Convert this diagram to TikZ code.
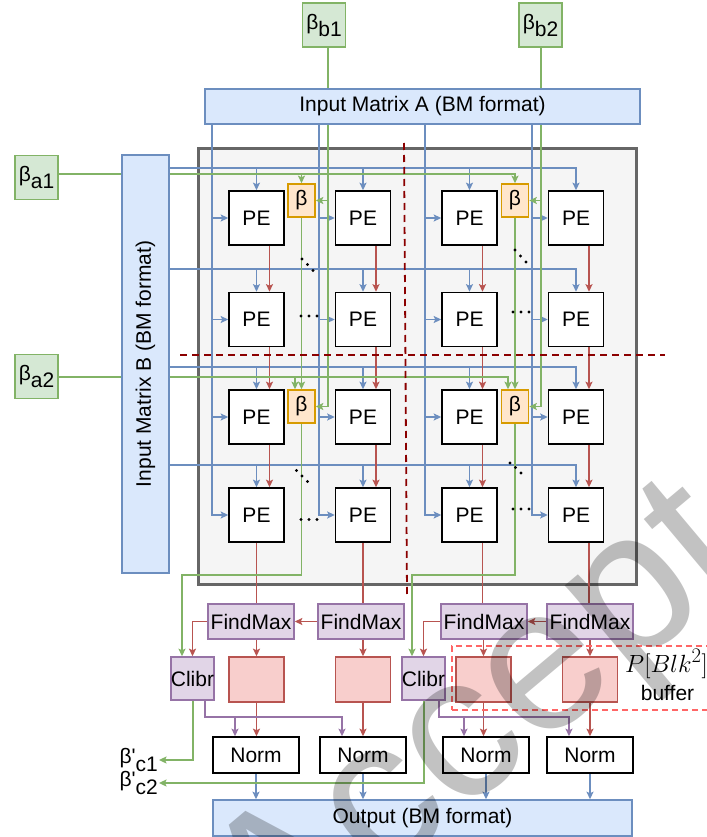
\documentclass[tikz,border=0pt]{standalone}
\usepackage{fontspec}
\setmainfont{Liberation Sans}
\usetikzlibrary{arrows.meta}
\definecolor{blueFill}{HTML}{DAE8FC}
\definecolor{blueLine}{HTML}{6C8EBF}
\definecolor{greenFill}{HTML}{D5E8D4}
\definecolor{greenLine}{HTML}{82B366}
\definecolor{orangeFill}{HTML}{FFE6CC}
\definecolor{orangeLine}{HTML}{D79B00}
\definecolor{purpleFill}{HTML}{E1D5E7}
\definecolor{purpleLine}{HTML}{9673A6}
\definecolor{redFill}{HTML}{F8CECC}
\definecolor{redLine}{HTML}{B85450}
\definecolor{arrayFill}{HTML}{F5F5F5}
\definecolor{arrayLine}{HTML}{666666}
\definecolor{splitLine}{HTML}{8B0000}
\definecolor{bufLine}{HTML}{FF6666}
\pgfdeclarelayer{bg}
\pgfdeclarelayer{wires}
\pgfdeclarelayer{fg}
\pgfsetlayers{bg,wires,main,fg}
\begin{document}
\begin{tikzpicture}[x=1pt,y=-1pt,
  font=\fontsize{21}{25}\selectfont,
  box/.style={draw, line width=1.6pt, inner sep=0pt, align=center},
  pe/.style={box, draw=black, fill=white, minimum width=55, minimum height=54},
  betaBox/.style={box, draw=orangeLine, fill=orangeFill, minimum width=27, minimum height=33},
  betaIn/.style={box, draw=greenLine, fill=greenFill, minimum width=43, minimum height=44},
  ioBox/.style={box, draw=blueLine, fill=blueFill},
  fmax/.style={box, draw=purpleLine, fill=purpleFill, minimum width=86, minimum height=35},
  clbr/.style={box, draw=purpleLine, fill=purpleFill, minimum width=43, minimum height=43},
  bufBox/.style={box, draw=redLine, fill=redFill, minimum width=55, minimum height=45},
  normBox/.style={box, draw=black, fill=white, minimum width=86, minimum height=36},
  wire/.style={line width=1.6pt},
  arr/.style={wire, -{Stealth[length=7.5pt,width=7pt,inset=1.5pt]}},
  bArr/.style={arr, draw=blueLine},
  rArr/.style={arr, draw=redLine},
  gArr/.style={arr, draw=greenLine},
  pArr/.style={arr, draw=purpleLine},
  rWire/.style={wire, draw=redLine},
  split/.style={draw=splitLine, line width=1.8pt, dash pattern=on 7pt off 5pt},
]
\useasboundingbox (0,0) rectangle (706,837);
\begin{pgfonlayer}{bg}
  \fill[white] (0,0) rectangle (706,837);
  \node[draw=arrayLine, fill=arrayFill, line width=3pt, minimum width=438, minimum height=435, inner sep=0pt] (array) at (417,366.5) {};
\end{pgfonlayer}

% inputs
\node[ioBox, minimum width=435, minimum height=35] (ia) at (422.5,106.5) {Input Matrix A (BM format)};
\node[ioBox, minimum width=47, minimum height=418] (ib) at (145.5,364) {\rotatebox{90}{Input Matrix B (BM format)}};
\node[betaIn] (bb1) at (324,25) {β\raisebox{-7pt}{b1}};
\node[betaIn] (bb2) at (540.5,25) {β\raisebox{-7pt}{b2}};
\node[betaIn] (ba1) at (36.5,177.5) {β\raisebox{-7pt}{a1}};
\node[betaIn] (ba2) at (36.5,376.5) {β\raisebox{-7pt}{a2}};

% processing elements
\foreach \r/\yy in {1/218,2/319.5,3/417,4/515}
  \foreach \c/\xx in {1/256.5,2/363,3/469.5,4/576}
    \node[pe] (p\r\c) at (\xx,\yy) {PE};

% scaling factor units
\node[betaBox] (b1) at (301.5,200.5) {β};
\node[betaBox] (b2) at (515,200.5) {β};
\node[betaBox] (b3) at (301.5,406.5) {β};
\node[betaBox] (b4) at (515,406.5) {β};

% post-processing
\node[fmax] (fm1) at (251,621.5) {FindMax};
\node[fmax] (fm2) at (361,621.5) {FindMax};
\node[fmax] (fm3) at (484,621.5) {FindMax};
\node[fmax] (fm4) at (590,621.5) {FindMax};
\node[clbr] (cl1) at (192.5,678.5) {Clibr};
\node[clbr] (cl2) at (423.5,678.5) {Clibr};
\node[bufBox] (bf1) at (256.5,679.5) {};
\node[bufBox] (bf2) at (363,679.5) {};
\node[bufBox] (bf3) at (483.5,679.5) {};
\node[bufBox] (bf4) at (590,679.5) {};
\node[normBox] (nm1) at (256,755) {Norm};
\node[normBox] (nm2) at (363,755) {Norm};
\node[normBox] (nm3) at (486,755) {Norm};
\node[normBox] (nm4) at (590,755) {Norm};
\node[ioBox, minimum width=419, minimum height=36] (out) at (422.5,818) {Output (BM format)};
\node[anchor=east, inner sep=1pt] (lc1) at (159,760) {β\textquotesingle\raisebox{-8pt}{c1}};
\node[anchor=east, inner sep=1pt] (lc2) at (159,783) {β\textquotesingle\raisebox{-8pt}{c2}};

% buffer region
\node[draw=bufLine, line width=1.3pt, dash pattern=on 6pt off 4pt, minimum width=268, minimum height=64, inner sep=0pt] (bufreg) at (586,678) {};
\node[anchor=base, font=\Huge] (plab) at (666.5,672) {$P[Blk^2]$};
\node[anchor=base] (blab) at (667.5,700) {buffer};

% ellipses between PEs
\foreach \px/\py in {302/259, 307.5/264.5, 313/270.5, 301/316, 309/316, 317/316,
  296.5/470.5, 302/476, 307.5/481.5, 301/519.5, 309/519.5, 317/519.5,
  515/250, 520.5/256, 526/262, 513/312, 521/312, 529/312,
  510/463, 515.5/467.5, 521/473, 513/509, 521/509, 529/509}
  \fill (\px,\py) circle (1.7);

\begin{pgfonlayer}{wires}
% matrix A columns
\foreach \c/\xx in {1/212,2/319,3/425,4/532} {
  \coordinate (xa\c) at (\xx,0);
  \draw[bArr] (ia.south -| xa\c) |- (p4\c.west);
  \foreach \r in {1,2,3} \draw[bArr] (p\r\c.west -| xa\c) -- (p\r\c.west);
}
% matrix B rows
\foreach \r/\yy in {1/168,2/269,3/367,4/465} {
  \coordinate (yb\r) at (0,\yy);
  \draw[bArr] (ib.east |- yb\r) -| (p\r4.north);
  \foreach \c in {1,2,3} \draw[bArr] (p\r\c.north |- yb\r) -- (p\r\c.north);
}
% partial sums down the columns
\foreach \c in {1,...,4}
  \foreach \r/\s in {1/2,2/3,3/4}
    \draw[rArr] ([xshift=13]p\r\c.south) -- ([xshift=13]p\s\c.north);
\coordinate (r3) at ([xshift=13]p43.south);
\coordinate (r4) at ([xshift=13]p44.south);
\draw[rWire] (p41.south) -- (p41.south |- fm1.north);
\draw[rWire] (p42.south) -- (p42.south |- fm2.north);
\draw[rWire] (r3) -- (r3 |- fm3.north);
\draw[rWire] (r4) -- (r4 |- fm4.north);
% max search chain
\draw[rArr] (fm2.west) -- (fm1.east);
\draw[rArr] (fm4.west) -- (fm3.east);
\draw[rArr] (fm1.west) -| (cl1.north);
\draw[rArr] (fm3.west) -| (cl2.north);
\foreach \i in {1,...,4} {
  \draw[rArr] (bf\i.north |- fm\i.south) -- (bf\i.north);
  \draw[rArr] (bf\i.south) -- (bf\i.south |- nm\i.north);
  \draw[bArr] (nm\i.south) -- (nm\i.south |- out.north);
}
% calibration to normalisation
\coordinate (pu1) at (205,717);
\coordinate (pu2) at (439,717);
\coordinate (pa1) at ([xshift=-21]nm1.north);
\coordinate (pa2) at ([xshift=-21]nm2.north);
\coordinate (pa3) at ([xshift=-22]nm3.north);
\coordinate (pa4) at ([xshift=-21]nm4.north);
\draw[pArr] (cl1.south -| pu1) |- (pa2 |- pu1) -- (pa2);
\draw[pArr] (pa1 |- pu1) -- (pa1);
\draw[pArr] (cl2.south -| pu2) |- (pa4 |- pu2) -- (pa4);
\draw[pArr] (pa3 |- pu2) -- (pa3);
% calibrated scale outputs
\coordinate (go1) at (193,0);
\coordinate (go2) at (424,0);
\draw[gArr] (cl1.south -| go1) |- (lc1.east);
\draw[gArr] (cl2.south -| go2) |- (lc2.east);
% scale factors into the array
\coordinate (ya1) at (0,174);
\coordinate (ya2) at (0,377);
\draw[gArr] (ba1.east |- ya1) -| (b2.north);
\draw[gArr] (b1.north |- ya1) -- (b1.north);
\coordinate (g3) at ([xshift=-6.5]b3.north);
\coordinate (g4) at ([xshift=-7]b4.north);
\draw[gArr] (ba2.east |- ya2) -| (g4);
\draw[gArr] (g3 |- ya2) -- (g3);
\draw[gArr] (b1.south) -- (b3.north);
\draw[gArr] (b2.south) -- (b4.north);
\coordinate (xb1) at (328,0);
\coordinate (xb2) at (541,0);
\draw[gArr] (bb1.south -| xb1) |- (b3.east);
\draw[gArr] (b1.east -| xb1) -- (b1.east);
\draw[gArr] (bb2.south -| xb2) |- (b4.east);
\draw[gArr] (b2.east -| xb2) -- (b2.east);
\coordinate (yg) at (0,575);
\coordinate (gi1) at (182,0);
\coordinate (gi2) at (412,0);
\draw[gArr] (b3.south) |- (gi1 |- yg) -- (gi1 |- cl1.north);
\draw[gArr] (b4.south) |- (gi2 |- yg) -- (gi2 |- cl2.north);
% block partition lines
\draw[split] (404,143) -- (407,594);
\draw[split] (180,355) -- (665,355);
\end{pgfonlayer}

\begin{pgfonlayer}{fg}
  \node[rotate=40, anchor=base west, text=black, opacity=0.24, inner sep=0pt,
        font=\fontsize{205}{205}\selectfont] (stamp) at (275,971) {Accepted};
\end{pgfonlayer}
\end{tikzpicture}
\end{document}
